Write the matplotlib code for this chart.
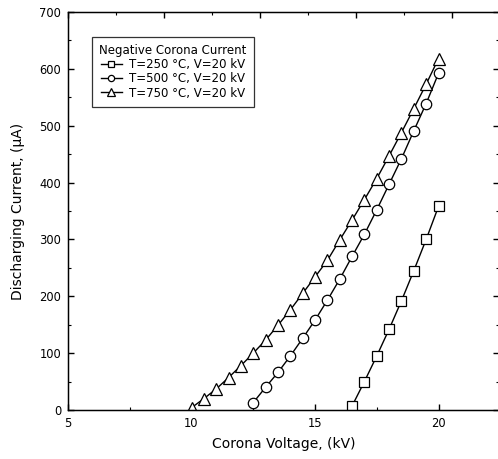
import matplotlib
matplotlib.use("Agg")
import matplotlib.pyplot as plt
from matplotlib.ticker import MultipleLocator, NullFormatter

plt.rcParams['font.family'] = ['DejaVu Sans']

# Data
v_250 = [16.5, 17.0, 17.5, 18.0, 18.5, 19.0, 19.5, 20.0]
i_250 = [7, 50, 95, 142, 192, 245, 300, 358]

v_500 = [12.5, 13.0, 13.5, 14.0, 14.5, 15.0, 15.5, 16.0, 16.5, 17.0,
         17.5, 18.0, 18.5, 19.0, 19.5, 20.0]
i_500 = [13, 40, 66, 95, 126, 158, 193, 230, 270, 309,
         352, 397, 442, 491, 539, 592]

v_750 = [10.0, 10.5, 11.0, 11.5, 12.0, 12.5, 13.0, 13.5, 14.0, 14.5,
         15.0, 15.5, 16.0, 16.5, 17.0, 17.5, 18.0, 18.5, 19.0, 19.5, 20.0]
i_750 = [4, 20, 37, 57, 78, 100, 123, 149, 176, 205,
         234, 263, 299, 334, 370, 407, 447, 488, 530, 573, 618]

labels = ["T=250 \u00b0C, V=20 kV", "T=500 \u00b0C, V=20 kV", "T=750 \u00b0C, V=20 kV"]
legend_title = "Negative Corona Current"
xlabel = "Corona Voltage, (kV)"
ylabel = "Discharging Current, (\u03bcA)"

W, H = 498, 459
fig = plt.figure(figsize=(W / 100, H / 100), dpi=100)
left, right, bottom, top = 68, 499, 410, 12
ax = fig.add_axes([left / W, (H - bottom) / H, (right - left) / W, (bottom - top) / H])

style = dict(color='black', lw=1.0, mfc='white', mec='black', mew=0.9)
ax.plot(v_250, i_250, marker='s', ms=7, label=labels[0], **style)
ax.plot(v_500, i_500, marker='o', ms=7.5, label=labels[1], **style)
ax.plot(v_750, i_750, marker='^', ms=8.5, label=labels[2], **style)

xpx = 24.7
ax.set_xlim(5, 5 + (right - left) / xpx)
ax.set_ylim(0, 700)
ax.xaxis.set_major_locator(MultipleLocator(5))
ax.xaxis.set_minor_locator(MultipleLocator(2.5))
ax.yaxis.set_major_locator(MultipleLocator(100))
ax.yaxis.set_minor_locator(MultipleLocator(50))
ax.tick_params(which='both', direction='in', top=False, right=True, labelsize=8.3, pad=5)
ax.tick_params(which='major', length=4, width=1)
ax.tick_params(which='minor', length=2, width=0.8)
for s in ax.spines.values():
    s.set_linewidth(1.0)

ax.set_xlabel(xlabel, fontsize=10, labelpad=5)
ax.set_ylabel(ylabel, fontsize=10, labelpad=10)

# top axis with independent ticks
ax2 = ax.twiny()
ax2.set_xlim(0, (right - left) / 96)
ax2.xaxis.set_major_locator(MultipleLocator(1))
ax2.xaxis.set_minor_locator(MultipleLocator(0.5))
ax2.xaxis.set_major_formatter(NullFormatter())
ax2.tick_params(which='both', direction='in', top=True, labeltop=False)
ax2.tick_params(which='major', length=4, width=1)
ax2.tick_params(which='minor', length=2, width=0.8)

leg = ax.legend(title=legend_title, loc='upper left',
                bbox_to_anchor=((92 - left) / (right - left), 1 - (37 - top) / (bottom - top)),
                fontsize=8.5, title_fontsize=8.5, markerscale=0.6, frameon=True, fancybox=False,
                edgecolor='black', handlelength=1.8, handletextpad=0.55, borderpad=0.6,
                labelspacing=0.1, borderaxespad=0)
leg.get_frame().set_linewidth(0.9)

fig.savefig("out.png", dpi=100)
